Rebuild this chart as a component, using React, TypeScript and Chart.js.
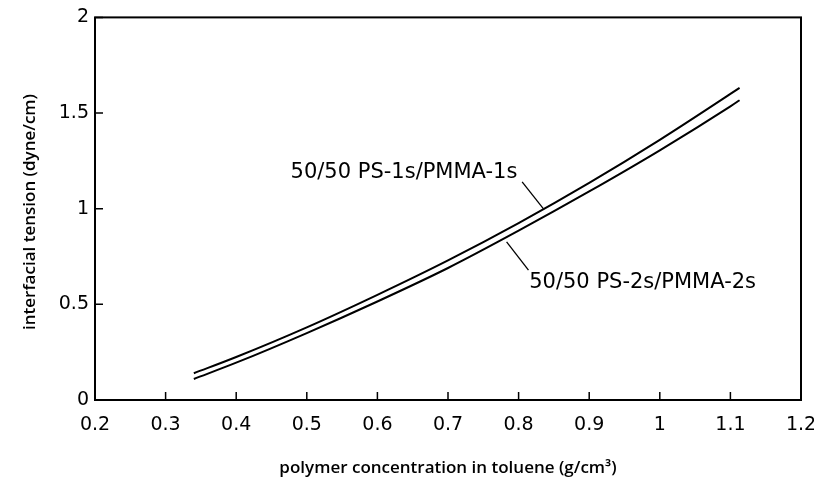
import React, { useEffect, useRef } from "react";
import { Chart, registerables } from "chart.js";

Chart.register(...registerables);

// Data
const concentration = [0.34, 0.4, 0.5, 0.6, 0.7, 0.8, 0.9, 1.0, 1.1, 1.113];
const tensionPS1s = [0.14, 0.225, 0.38, 0.55, 0.73, 0.925, 1.135, 1.36, 1.6, 1.632];
const tensionPS2s = [0.11, 0.195, 0.35, 0.515, 0.69, 0.885, 1.09, 1.305, 1.535, 1.567];

const seriesNames = ["50/50 PS-1s/PMMA-1s", "50/50 PS-2s/PMMA-2s"];
const xTitle = "polymer concentration in toluene (g/cm³)";
const yTitle = "interfacial tension (dyne/cm)";

// Label annotations in data coordinates
const labelAnchors = [
  { text: seriesNames[0], x: 0.477, y: 1.159, from: [0.805, 1.14], to: [0.835, 1.0] },
  { text: seriesNames[1], x: 0.815, y: 0.585, from: [0.783, 0.827], to: [0.814, 0.679] },
];

const fmt = (v: number) => {
  const r = Math.round(v * 10) / 10;
  return String(Number(r.toFixed(1)));
};

const overlay = {
  id: "overlay",
  afterDraw(chart: any) {
    const { ctx, chartArea: a, scales } = chart;
    const x = scales.x;
    const y = scales.y;
    ctx.save();
    ctx.strokeStyle = "#000";
    ctx.lineWidth = 2;
    ctx.strokeRect(a.left, a.top, a.right - a.left, a.bottom - a.top);
    ctx.lineWidth = 1.5;
    ctx.beginPath();
    x.ticks.forEach((t: any) => {
      const px = x.getPixelForValue(t.value);
      ctx.moveTo(px, a.bottom);
      ctx.lineTo(px, a.bottom - 8);
    });
    y.ticks.forEach((t: any) => {
      const py = y.getPixelForValue(t.value);
      ctx.moveTo(a.left, py);
      ctx.lineTo(a.left + 8, py);
    });
    ctx.stroke();

    // series labels with leader lines
    ctx.fillStyle = "#000";
    ctx.font = '21px "DejaVu Sans"';
    ctx.textAlign = "left";
    ctx.textBaseline = "alphabetic";
    ctx.lineWidth = 1.3;
    labelAnchors.forEach((l) => {
      ctx.fillText(l.text, x.getPixelForValue(l.x), y.getPixelForValue(l.y));
      ctx.beginPath();
      ctx.moveTo(x.getPixelForValue(l.from[0]), y.getPixelForValue(l.from[1]));
      ctx.lineTo(x.getPixelForValue(l.to[0]), y.getPixelForValue(l.to[1]));
      ctx.stroke();
    });

    // axis titles
    ctx.font = '600 17px "Open Sans"';
    ctx.textAlign = "center";
    ctx.textBaseline = "alphabetic";
    ctx.fillText(xTitle, (a.left + a.right) / 2, 473);

    ctx.save();
    ctx.translate(30, 212);
    ctx.rotate(-Math.PI / 2);
    ctx.font = '600 17px "Open Sans"';
    ctx.textBaseline = "middle";
    ctx.fillText(yTitle, 0, 0);
    ctx.restore();

    ctx.restore();
  },
};

export default function App() {
  const ref = useRef<HTMLCanvasElement>(null);
  useEffect(() => {
    if (!ref.current) return;
    const tickFont = { family: "DejaVu Sans", size: 19 };
    const chart = new Chart(ref.current, {
      type: "line",
      data: {
        datasets: [
          {
            label: seriesNames[0],
            data: concentration.map((c, i) => ({ x: c, y: tensionPS1s[i] })),
            borderColor: "#000",
            borderWidth: 2,
            pointRadius: 0,
            cubicInterpolationMode: "monotone",
            fill: false,
          },
          {
            label: seriesNames[1],
            data: concentration.map((c, i) => ({ x: c, y: tensionPS2s[i] })),
            borderColor: "#000",
            borderWidth: 2,
            pointRadius: 0,
            cubicInterpolationMode: "monotone",
            fill: false,
          },
        ],
      },
      options: {
        responsive: false,
        animation: false,
        layout: { padding: { left: 0, right: 3, top: 17, bottom: 0 } },
        plugins: { legend: { display: false }, tooltip: { enabled: false } },
        scales: {
          x: {
            type: "linear",
            min: 0.2,
            max: 1.2,
            grid: { display: false, drawTicks: false },
            border: { display: false },
            ticks: {
              stepSize: 0.1,
              padding: 14,
              color: "#000",
              font: tickFont,
              maxRotation: 0,
              autoSkip: false,
              callback: (v: any) => fmt(Number(v)),
            },
            afterFit: (s: any) => {
              s.height = 84;
              s.paddingRight = 13;
              s.paddingLeft = 0;
            },
          },
          y: {
            min: 0,
            max: 2,
            grid: { display: false, drawTicks: false },
            border: { display: false },
            ticks: {
              stepSize: 0.5,
              padding: 6,
              color: "#000",
              font: tickFont,
              callback: (v: any) => String(Number(Number(v).toFixed(1))),
            },
            afterFit: (s: any) => {
              s.width = 95;
            },
          },
        },
      },
      plugins: [overlay],
    });
    return () => chart.destroy();
  }, []);
  return (
    <div style={{ position: "absolute", left: 0, top: 0, width: 814, height: 484, background: "#fff" }}>
      <canvas ref={ref} width={814} height={484} style={{ width: 814, height: 484 }} />
    </div>
  );
}
